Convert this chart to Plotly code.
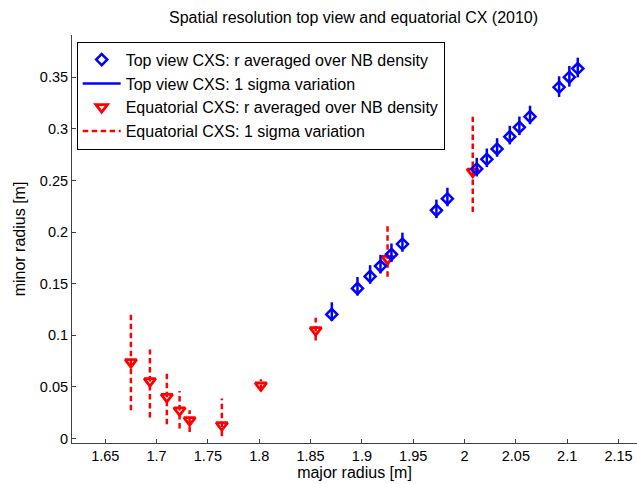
import plotly.graph_objects as go

# Top view CXS
top_R = [1.8707, 1.8957, 1.9080, 1.9181, 1.9288, 1.9395, 1.9726, 1.9833, 2.0119,
         2.0217, 2.0317, 2.0441, 2.0534, 2.0638, 2.0921, 2.1021, 2.1103]
top_r = [0.1203, 0.1455, 0.1571, 0.1671, 0.1785, 0.1885, 0.2211, 0.2324, 0.2612,
         0.2706, 0.2806, 0.2925, 0.3016, 0.3119, 0.3404, 0.3501, 0.3585]
top_hi = [0.1320, 0.1565, 0.1680, 0.1780, 0.1890, 0.1995, 0.2315, 0.2430, 0.2720,
          0.2810, 0.2910, 0.3030, 0.3120, 0.3225, 0.3510, 0.3610, 0.3690]
top_lo = [0.1140, 0.1385, 0.1500, 0.1600, 0.1710, 0.1810, 0.2135, 0.2250, 0.2540,
          0.2630, 0.2730, 0.2850, 0.2940, 0.3045, 0.3310, 0.3410, 0.3500]

# Equatorial CXS
eq_R = [1.675, 1.6935, 1.710, 1.7224, 1.7322, 1.7636, 1.8016, 1.855, 1.925, 2.008]
eq_r = [0.074, 0.0556, 0.0404, 0.0274, 0.0178, 0.0129, 0.0514, 0.105, 0.174, 0.2586]
eq_hi = [0.1228, 0.0863, 0.0656, 0.0462, 0.0274, 0.0388, 0.0575, 0.117, 0.2078, 0.3118]
eq_lo = [0.0274, 0.0204, 0.0139, 0.0097, 0.0064, 0.0022, 0.0468, 0.095, 0.1567, 0.2195]

x_ticks = [1.65, 1.7, 1.75, 1.8, 1.85, 1.9, 1.95, 2.0, 2.05, 2.1, 2.15]
x_tick_labels = ["1.65", "1.7", "1.75", "1.8", "1.85", "1.9", "1.95", "2", "2.05", "2.1", "2.15"]
y_ticks = [0, 0.05, 0.1, 0.15, 0.2, 0.25, 0.3, 0.35]
y_tick_labels = ["0", "0.05", "0.1", "0.15", "0.2", "0.25", "0.3", "0.35"]


def segs(xs, lo, hi):
    X, Y = [], []
    for x, a, b in zip(xs, lo, hi):
        X += [x, x, None]
        Y += [a, b, None]
    return X, Y


FONT = "Liberation Sans, Arial, sans-serif"
fig = go.Figure()

ex, ey = segs(eq_R, eq_lo, eq_hi)
fig.add_trace(go.Scatter(x=eq_R, y=eq_r, mode="markers", name="Equatorial CXS: r averaged over NB density",
                         marker=dict(symbol="triangle-down-open", size=10, color="#ff0000",
                                     line=dict(width=2.8, color="#ff0000")), legendrank=3))
fig.add_trace(go.Scatter(x=ex, y=ey, mode="lines", name="Equatorial CXS: 1 sigma variation",
                         line=dict(color="#ff0000", width=2.5, dash="5.5px,3.5px"), legendrank=4))

tx, ty = segs(top_R, top_lo, top_hi)
fig.add_trace(go.Scatter(x=top_R, y=top_r, mode="markers", name="Top view CXS: r averaged over NB density",
                         marker=dict(symbol="diamond-open", size=8.5, color="#0000ff",
                                     line=dict(width=2.5, color="#0000ff")), legendrank=1))
fig.add_trace(go.Scatter(x=tx, y=ty, mode="lines", name="Top view CXS: 1 sigma variation",
                         line=dict(color="#0000ff", width=2.5), legendrank=2))

axis_common = dict(showgrid=False, zeroline=False, showline=True, linecolor="#404040", linewidth=1,
                   ticks="inside", ticklen=4, tickcolor="#404040",
                   tickfont=dict(size=14.5, color="black", family=FONT), mirror=False)

fig.update_layout(
    width=637, height=484,
    margin=dict(l=72, r=0, t=35, b=41),
    paper_bgcolor="white", plot_bgcolor="white",
    font=dict(family=FONT, color="black", size=16),
    title=dict(text="Spatial resolution top view and equatorial CX (2010)", x=0.555, xanchor="center",
               y=0.965, yanchor="middle", font=dict(size=16, family=FONT, color="black")),
    xaxis=dict(range=[1.6176, 2.168], tickvals=x_ticks, ticktext=x_tick_labels,
               title=dict(text="major radius [m]", font=dict(size=16), standoff=2), **axis_common),
    yaxis=dict(range=[-0.0043, 0.391], tickvals=y_ticks, ticktext=y_tick_labels,
               title=dict(text="minor radius [m]", font=dict(size=16), standoff=10), **axis_common),
    legend=dict(x=0.0083, y=0.9836, xanchor="left", yanchor="top", bgcolor="white",
                bordercolor="black", borderwidth=1, font=dict(size=16, family=FONT),
                itemwidth=38, tracegroupgap=0),
    showlegend=True,
)

fig.write_html("out.html")
